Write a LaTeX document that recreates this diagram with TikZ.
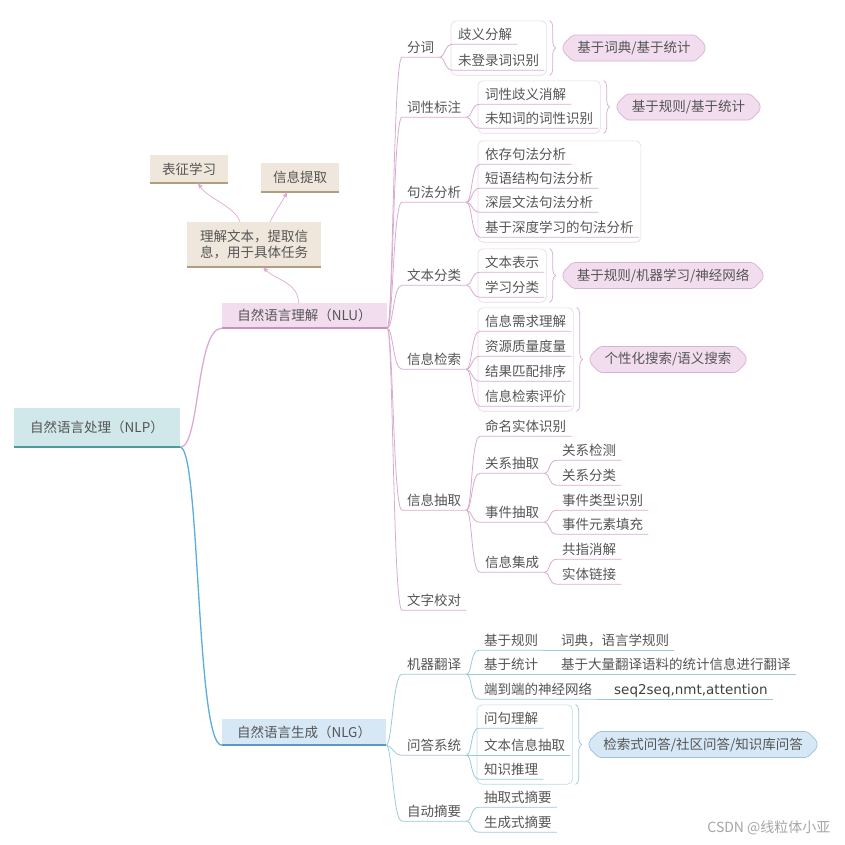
\documentclass[tikz,border=0pt]{standalone}
\usepackage{fontspec}
\setmainfont{Noto Sans CJK SC}
\newfontfamily\latinsans{DejaVu Sans}
\usetikzlibrary{positioning,arrows.meta,calc,fit,decorations.pathreplacing,shapes.misc,backgrounds}

\definecolor{txtgray}{HTML}{555555}
\definecolor{pkline}{HTML}{D9ABD2}
\definecolor{pkfill}{HTML}{F2DDEF}
\definecolor{pkdark}{HTML}{C98FC1}
\definecolor{pkbound}{HTML}{EBD5E7}
\definecolor{blline}{HTML}{9CCADD}
\definecolor{blfill}{HTML}{D6E8F6}
\definecolor{bldark}{HTML}{5C97C8}
\definecolor{blbound}{HTML}{BCD9E8}
\definecolor{blbright}{HTML}{5AADE0}
\definecolor{tlfill}{HTML}{D0E8EA}
\definecolor{tldark}{HTML}{4E9B9C}
\definecolor{bgfill}{HTML}{EFE7DC}
\definecolor{bgdark}{HTML}{B19D80}
\definecolor{arrowpk}{HTML}{DFAAD6}

\tikzset{
  item/.style={anchor=west, font=\fontsize{13.5}{16}\selectfont, text=txtgray,
    inner xsep=5pt, inner ysep=2.5pt, text height=11pt, text depth=2pt},
  topic/.style={font=\fontsize{13.5}{16}\selectfont, text=txtgray, inner sep=0pt},
  bound/.style={draw=#1, fill=white, rounded corners=5pt, line width=0.6pt,
    inner xsep=2pt, inner ysep=5pt},
  summ/.style={chamfered rectangle, chamfered rectangle xsep=6pt, rounded corners=2pt,
    font=\fontsize{13.5}{16}\selectfont, text=txtgray, minimum height=26pt,
    inner ysep=2pt, line width=0.7pt},
  pk/.style={draw=pkline, line width=0.8pt},
  bl/.style={draw=blline, line width=0.8pt},
  cv/.style={to path={.. controls +(6,0) and +(-9,0) .. (\tikztotarget)}},
  bigcv/.style={to path={.. controls +(20,0) and +(-26,0) .. (\tikztotarget)}},
  brc/.style={decorate, decoration={brace, amplitude=6pt}, line width=0.7pt, draw=#1},
  arr/.style={draw=arrowpk, line width=0.7pt, -{Triangle[length=5pt,width=4pt]}},
}

\begin{document}
\begin{tikzpicture}[x=1pt,y=-1pt]
  \useasboundingbox (0,0) rectangle (845,844);

  % main topics
  \node[topic, fill=tlfill, minimum width=166pt, minimum height=39pt] (nlp) at (97,427.5) {自然语言处理（NLP）};
  \draw[tldark, line width=2.2pt] (nlp.south west) -- (nlp.south east);
  \node[topic, fill=pkfill, minimum width=165pt, minimum height=25pt] (nlu) at (304.5,315.5) {自然语言理解（NLU）};
  \draw[pkdark, line width=1.5pt] (nlu.south west) -- (nlu.south east);
  \node[topic, fill=blfill, minimum width=164pt, minimum height=26pt] (nlg) at (304,732) {自然语言生成（NLG）};
  \draw[bldark, line width=1.5pt] (nlg.south west) -- (nlg.south east);

  % notes above NLU
  \node[topic, fill=bgfill, align=left, minimum width=134pt, minimum height=45pt] (goal) at (254,244.5)
    {理解文本，提取信\\息，用于具体任务};
  \node[topic, fill=bgfill, minimum width=78pt, minimum height=28pt] (rep) at (189,169) {表征学习};
  \node[topic, fill=bgfill, minimum width=78pt, minimum height=29pt] (ext) at (300,177.5) {信息提取};
  \foreach \n in {goal,rep,ext}
    \draw[bgdark, line width=1.5pt] (\n.south west) -- (\n.south east);
  \draw[arr] ([xshift=-6pt]nlu.north) .. controls +(0,-20) and +(12,12) .. ([xshift=9pt]goal.south);
  \draw[arr] ([xshift=-14pt]goal.north) .. controls +(-5,-15) and +(10,15) .. ([xshift=9pt]rep.south);
  \draw[arr] ([xshift=16pt]goal.north) .. controls +(5,-10) and +(-4,8) .. ([xshift=-13pt]ext.south);

  % NLU branch
  \node[item] (fenci) at (402,48) {分词};
  \node[item] (qiyi) at (453,35) {歧义分解};
  \node[item] (weideng) at (453,61) {未登录词识别};
  \node[item] (cixing) at (402,108) {词性标注};
  \node[item] (cxqy) at (480,95) {词性歧义消解};
  \node[item] (wzc) at (480,119) {未知词的词性识别};
  \node[item] (jufa) at (402,193) {句法分析};
  \node[item] (yicun) at (480,155) {依存句法分析};
  \node[item] (duanyu) at (480,179) {短语结构句法分析};
  \node[item] (shenceng) at (480,203) {深层文法句法分析};
  \node[item] (shendu) at (480,228) {基于深度学习的句法分析};
  \node[item] (fenlei) at (402,276) {文本分类};
  \node[item] (biaoshi) at (480,263) {文本表示};
  \node[item] (xuexi) at (480,288) {学习分类};
  \node[item] (jiansuo) at (402,360) {信息检索};
  \node[item] (xuqiu) at (480,322) {信息需求理解};
  \node[item] (zhiliang) at (480,347) {资源质量度量};
  \node[item] (pipei) at (480,372) {结果匹配排序};
  \node[item] (pingjia) at (480,397) {信息检索评价};
  \node[item] (chouqu) at (402,501) {信息抽取};
  \node[item] (mingming) at (480,427) {命名实体识别};
  \node[item] (guanxi) at (480,464) {关系抽取};
  \node[item] (jiance) at (557,451) {关系检测};
  \node[item] (gxfl) at (557,476) {关系分类};
  \node[item] (shijian) at (480,513) {事件抽取};
  \node[item] (leixing) at (557,501) {事件类型识别};
  \node[item] (yuansu) at (557,525) {事件元素填充};
  \node[item] (jicheng) at (480,563) {信息集成};
  \node[item] (gongzhi) at (557,550) {共指消解};
  \node[item] (lianjie) at (557,575) {实体链接};
  \node[item] (jiaodui) at (402,601) {文字校对};

  % NLG branch
  \node[item] (fanyi) at (402,665) {机器翻译};
  \node[item] (guize) at (479,641) {基于规则};
  \node[item] (cidian) at (556,641) {词典，语言学规则};
  \node[item] (tongji) at (479,665) {基于统计};
  \node[item] (dalian) at (556,665) {基于大量翻译语料的统计信息进行翻译};
  \node[item] (duan) at (479,690) {端到端的神经网络};
  \node[item, font=\latinsans\fontsize{13.5}{16}\selectfont, text=black!75] (seq) at (609,690) {seq2seq,nmt,attention};
  \node[item] (wenda) at (402,746) {问答系统};
  \node[item] (wenju) at (479,719) {问句理解};
  \node[item] (xinxi) at (479,746) {文本信息抽取};
  \node[item] (tuili) at (479,770) {知识推理};
  \node[item] (zhaiyao) at (402,812) {自动摘要};
  \node[item] (cqs) at (479,798) {抽取式摘要};
  \node[item] (scs) at (479,823) {生成式摘要};

  % connectors
  \draw[draw=pkline, line width=1.3pt] (nlp.south east) to[bigcv] (nlu.south west);
  \draw[draw=blbright, line width=1.3pt] (nlp.south east) to[bigcv] (nlg.south west);
  \foreach \a/\b in {nlu/fenci, nlu/cixing, nlu/jufa, nlu/fenlei, nlu/jiansuo, nlu/chouqu, nlu/jiaodui,
      fenci/qiyi, fenci/weideng, cixing/cxqy, cixing/wzc,
      jufa/yicun, jufa/duanyu, jufa/shenceng, jufa/shendu, fenlei/biaoshi, fenlei/xuexi,
      jiansuo/xuqiu, jiansuo/zhiliang, jiansuo/pipei, jiansuo/pingjia,
      chouqu/mingming, chouqu/guanxi, chouqu/shijian, chouqu/jicheng,
      guanxi/jiance, guanxi/gxfl, shijian/leixing, shijian/yuansu, jicheng/gongzhi, jicheng/lianjie}
    \draw[pk] (\a.south east) to[cv] (\b.south west) -- (\b.south east);
  \foreach \a/\b in {nlg/fanyi, nlg/wenda, nlg/zhaiyao, fanyi/guize, fanyi/tongji, fanyi/duan,
      guize/cidian, tongji/dalian, duan/seq, wenda/wenju, wenda/xinxi, wenda/tuili,
      zhaiyao/cqs, zhaiyao/scs}
    \draw[bl] (\a.south east) to[cv] (\b.south west) -- (\b.south east);

  % boundaries, braces and summaries
  \begin{scope}[on background layer]
    \fill[white] (0,0) rectangle (845,844);
    \node[bound=pkbound, fit=(qiyi)(weideng)] (b1) {};
    \node[bound=pkbound, fit=(cxqy)(wzc)] (b2) {};
    \node[bound=pkbound, fit=(yicun)(shendu)] (b3) {};
    \node[bound=pkbound, fit=(biaoshi)(xuexi)] (b4) {};
    \node[bound=pkbound, fit=(xuqiu)(pingjia)] (b5) {};
    \node[bound=blbound, fit=(wenju)(xinxi)(tuili)] (b6) {};
  \end{scope}
  \foreach \b in {b1,b2,b4,b5}
    \draw[brc=pkline] ([xshift=3pt]\b.north east) -- ([xshift=3pt]\b.south east);
  \draw[brc=blline] ([xshift=3pt]b6.north east) -- ([xshift=3pt]b6.south east);
  \node[summ, draw=pkdark!70, fill=pkfill, minimum width=142pt, right=16pt of b1] (s1) {基于词典/基于统计};
  \node[summ, draw=pkdark!70, fill=pkfill, minimum width=143pt, right=16pt of b2] (s2) {基于规则/基于统计};
  \node[summ, draw=pkdark!70, fill=pkfill, minimum width=200pt, right=16pt of b4] (s3) {基于规则/机器学习/神经网络};
  \node[summ, draw=pkdark!70, fill=pkfill, minimum width=156pt, right=16pt of b5] (s4) {个性化搜索/语义搜索};
  \node[summ, draw=bldark!60, fill=blfill, minimum width=228pt, right=16pt of b6] (s5) {检索式问答/社区问答/知识库问答};

  \node[font=\fontsize{14}{16}\selectfont, text=black!35, anchor=east] (wm) at (834,828) {CSDN @线粒体小亚};
\end{tikzpicture}
\end{document}
